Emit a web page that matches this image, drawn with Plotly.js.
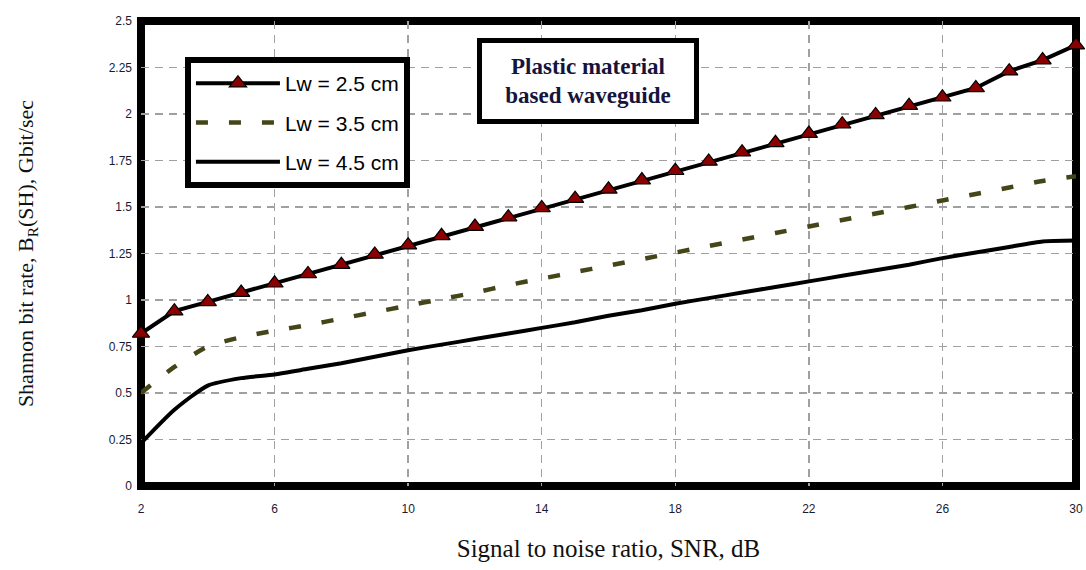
<!DOCTYPE html>
<html>
<head>
<meta charset="utf-8">
<script src="https://cdn.plot.ly/plotly-3.0.1.min.js"></script>
<style>html,body{margin:0;padding:0;background:#fff}#chart{width:1086px;height:570px}</style>
</head>
<body>
<div id="chart"></div>
<script>
// SNR values (dB)
const snr = [2,3,4,5,6,7,8,9,10,11,12,13,14,15,16,17,18,19,20,21,22,23,24,25,26,27,28,29,30];
// Shannon bit rate, Gbit/sec
const lw25 = [0.82,0.94,0.99,1.04,1.09,1.14,1.19,1.245,1.295,1.345,1.395,1.445,1.495,1.545,1.595,1.645,1.695,1.745,1.795,1.845,1.895,1.945,1.995,2.045,2.09,2.14,2.23,2.29,2.37];
const lw35 = [0.50,0.64,0.75,0.80,0.835,0.865,0.90,0.935,0.97,1.005,1.04,1.08,1.115,1.15,1.185,1.22,1.255,1.29,1.325,1.36,1.395,1.43,1.465,1.50,1.535,1.57,1.605,1.64,1.665];
const lw45 = [0.23,0.41,0.54,0.58,0.60,0.63,0.66,0.695,0.73,0.76,0.79,0.82,0.85,0.88,0.915,0.945,0.98,1.01,1.04,1.07,1.10,1.13,1.16,1.19,1.225,1.255,1.285,1.315,1.32];
const seriesNames = ['Lw = 2.5 cm','Lw = 3.5 cm','Lw = 4.5 cm'];
const xTicks = [2,6,10,14,18,22,26,30];
const yTicks = [0,0.25,0.5,0.75,1,1.25,1.5,1.75,2,2.25,2.5];
const yTickText = ['0','0.25','0.5','0.75','1','1.25','1.5','1.75','2','2.25','2.5'];

const tickFont = {family:'"Liberation Sans Narrow","Arial Narrow","Liberation Sans",Arial,sans-serif', size:12, color:'#1a1a33'};
const serif = '"Liberation Serif","Times New Roman",serif';

const traces = [
  {x:snr, y:lw25, name:seriesNames[0], type:'scatter', mode:'lines+markers', legendgroup:'a',
   line:{color:'#000', width:4, shape:'linear'},
   marker:{symbol:'triangle-up', size:15, color:'#8b0000', line:{color:'#000', width:1.2}}, cliponaxis:false},
  {x:snr, y:lw35, name:seriesNames[1], type:'scatter', mode:'lines', legendgroup:'b',
   line:{color:'#45451a', width:4.5, dash:'12px,21px', shape:'spline', smoothing:0.6}, cliponaxis:false},
  {x:snr, y:lw45, name:seriesNames[2], type:'scatter', mode:'lines', legendgroup:'c',
   line:{color:'#000', width:4, shape:'spline', smoothing:0.6}, cliponaxis:false}
];

const gridStyle = {showgrid:true, gridcolor:'#a0a0a0', gridwidth:1.5, griddash:'8px,6px'};

const layout = {
  width:1086, height:570,
  margin:{l:141, r:10, t:21, b:84},
  paper_bgcolor:'#fff', plot_bgcolor:'#fff',
  showlegend:true,
  legend:{x:0.047, y:0.9226, xanchor:'left', yanchor:'top', bgcolor:'#fff',
          bordercolor:'#000', borderwidth:6, itemwidth:84, tracegroupgap:9,
          traceorder:'grouped',
          font:{family:'"Liberation Sans Narrow","Arial Narrow","Liberation Sans",Arial,sans-serif', size:21, color:'#000'}},
  xaxis:Object.assign({range:[2,30], tickvals:xTicks, ticktext:xTicks.map(String), ticks:'', zeroline:false,
         showline:false, tickfont:tickFont, ticklabelstandoff:14,
         title:{text:'Signal to noise ratio, SNR, dB', font:{family:serif, size:25, color:'#111'}, standoff:24}}, gridStyle),
  yaxis:Object.assign({range:[0,2.5], tickvals:yTicks, ticktext:yTickText,
         ticks:'', zeroline:false, showline:false, tickfont:tickFont, ticklabelstandoff:8,
         title:{text:'Shannon bit rate, B<sub>R</sub>(SH), Gbit/sec', font:{family:serif, size:22, color:'#111'}, standoff:68}}, gridStyle),
  shapes:[{type:'rect', xref:'paper', yref:'paper', x0:0, x1:1, y0:0, y1:1, layer:'between',
           line:{color:'#000', width:8}, fillcolor:'rgba(0,0,0,0)'}],
  annotations:[{xref:'paper', yref:'paper', x:0.478, y:0.870, xanchor:'center', yanchor:'middle', showarrow:false,
    text:'Plastic material<br>based waveguide', align:'center',
    font:{family:serif, size:23, color:'#14143c', weight:'bold'},
    bgcolor:'#fff', bordercolor:'#000', borderwidth:5, borderpad:0, width:212, height:76}]
};

Plotly.newPlot('chart', traces, layout, {displayModeBar:false, staticPlot:true});
</script>
</body>
</html>
